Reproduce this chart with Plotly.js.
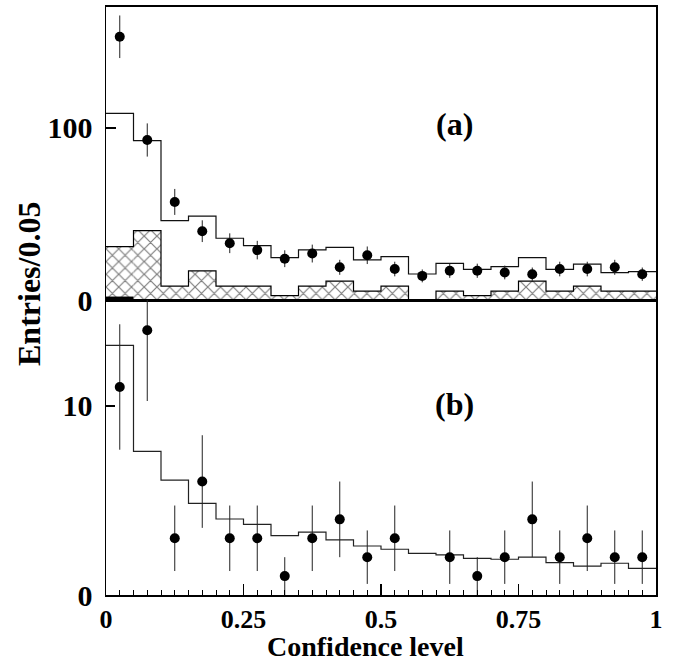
<!DOCTYPE html>
<html>
<head>
<meta charset="utf-8">
<script src="https://cdn.plot.ly/plotly-3.0.1.min.js"></script>
<style>html,body{margin:0;padding:0;background:#fff;}#chart{width:678px;height:663px;}</style>
</head>
<body>
<div id="chart"></div>
<script>
// ---- data (20 bins of width 0.05 in confidence level) ----
const binLow = [0,0.05,0.1,0.15,0.2,0.25,0.3,0.35,0.4,0.45,0.5,0.55,0.6,0.65,0.7,0.75,0.8,0.85,0.9,0.95];
const binWidth = 0.05;
// panel (a)
const topData = [153, 93, 57, 40, 33, 29, 24, 27, 19, 26, 18, 14, 17, 17, 16, 15, 18, 18, 19, 15];
const topMC   = [108.5, 92.6, 46.1, 48.8, 35.9, 31.6, 24.6, 29.1, 30.6, 23.3, 25.2, 15.1, 21.3, 17.8, 19.4, 24.6, 17.8, 20.9, 15.9, 16.5];
const topBkg  = [31, 40.3, 8.1, 16.9, 8.1, 8.1, 2.5, 8.1, 11, 5.2, 8.1, 0, 5.2, 2.5, 5.2, 11, 5.2, 8.1, 5.2, 5.2];
const topSolid = [2, 0, 0, 0, 0, 0, 0, 0, 0, 0, 0, 0, 0, 0, 0, 0, 0, 0, 0, 0];
// panel (b)
const botData = [11, 14, 3, 6, 3, 3, 1, 3, 4, 2, 3, 0, 2, 1, 2, 4, 2, 3, 2, 2];
const botMC   = [13.2, 7.6, 6.07, 4.85, 4.02, 3.74, 3.14, 3.32, 2.91, 2.59, 2.42, 2.2, 2.12, 1.94, 1.89, 2.0, 1.71, 1.53, 1.68, 1.41];
// ticks
const xTickVals = [0, 0.25, 0.5, 0.75, 1];
const xTickText = ['0', '0.25', '0.5', '0.75', '1'];
const yTopTicks = [0, 100];
const yBotTicks = [0, 10];

const centers = binLow.map(v => v + binWidth / 2);
const stepX = binLow.concat([binLow[binLow.length - 1] + binWidth]);
const stepY = arr => arr.concat([arr[arr.length - 1]]);
const pts = arr => arr.map(v => v > 0 ? v : null);
const errs = arr => arr.map(v => Math.sqrt(v));

const FONT = 'Liberation Serif, Times New Roman, serif';

const traces = [
  // (a) hatched background
  {type: 'bar', x: centers, y: topBkg, width: binWidth, xaxis: 'x', yaxis: 'y',
   marker: {color: 'white', line: {width: 0},
            pattern: {shape: 'x', size: 9, solidity: 0.25, fgcolor: 'black', bgcolor: 'white', fillmode: 'overlay'}},
   hoverinfo: 'skip'},
  {type: 'scatter', mode: 'lines', x: stepX, y: stepY(topBkg), xaxis: 'x', yaxis: 'y',
   line: {shape: 'hv', color: 'black', width: 1.2}},
  // (a) small solid component
  {type: 'bar', x: centers, y: topSolid, width: binWidth, xaxis: 'x', yaxis: 'y',
   marker: {color: 'black', line: {width: 0}}},
  // (a) MC histogram
  {type: 'scatter', mode: 'lines', x: stepX, y: stepY(topMC), xaxis: 'x', yaxis: 'y',
   line: {shape: 'hv', color: '#111', width: 1.2}},
  // (a) data
  {type: 'scatter', mode: 'markers', x: centers, y: pts(topData), xaxis: 'x', yaxis: 'y',
   marker: {color: 'black', size: 10},
   error_y: {type: 'data', array: errs(topData), visible: true, width: 0, thickness: 1, color: '#222'}},
  // (b) MC histogram
  {type: 'scatter', mode: 'lines', x: stepX, y: stepY(botMC), xaxis: 'x2', yaxis: 'y2',
   line: {shape: 'hv', color: '#222', width: 1.2}},
  // (b) data
  {type: 'scatter', mode: 'markers', x: centers, y: pts(botData), xaxis: 'x2', yaxis: 'y2',
   marker: {color: 'black', size: 10},
   error_y: {type: 'data', array: errs(botData), visible: true, width: 0, thickness: 1, color: '#222'}}
];

const split = (595 - 300) / 588;
const tickFont = {family: FONT, size: 30, color: 'black', weight: 'bold'};
const xTickFont = {family: FONT, size: 26, color: 'black', weight: 'bold'};

const layout = {
  width: 678, height: 663,
  margin: {l: 106, r: 22, t: 7, b: 68, pad: 0},
  paper_bgcolor: 'white', plot_bgcolor: 'white',
  showlegend: false,
  barmode: 'overlay',
  font: {family: FONT, color: 'black'},
  xaxis: {anchor: 'y', domain: [0, 1], range: [0, 1], showgrid: false, zeroline: false,
          showline: true, linecolor: 'black', linewidth: 2, mirror: true,
          showticklabels: false, ticks: ''},
  yaxis: {anchor: 'x', domain: [split, 1], range: [0, 170.3], showgrid: false, zeroline: false,
          showline: true, linecolor: 'black', linewidth: 1.5, mirror: true,
          tickmode: 'array', tickvals: yTopTicks, ticktext: yTopTicks.map(String),
          ticks: 'inside', ticklen: 10, tickwidth: 1.5, tickcolor: 'black',
          tickfont: tickFont, ticklabelstandoff: 6},
  xaxis2: {anchor: 'y2', domain: [0, 1], range: [0, 1], showgrid: false, zeroline: false,
           showline: true, linecolor: 'black', linewidth: 1.5, mirror: true,
           tickmode: 'array', tickvals: xTickVals, ticktext: xTickText,
           ticks: 'inside', ticklen: 11, tickwidth: 1.2, tickcolor: 'black',
           minor: {dtick: 0.025, ticks: 'inside', ticklen: 5, tickwidth: 1, tickcolor: 'black', showgrid: false},
           tickfont: xTickFont},
  yaxis2: {anchor: 'x2', domain: [0, split], range: [0, 15.6], showgrid: false, zeroline: false,
           showline: true, linecolor: 'black', linewidth: 1.5, mirror: true,
           tickmode: 'array', tickvals: yBotTicks, ticktext: yBotTicks.map(String),
           ticks: 'inside', ticklen: 9, tickwidth: 1.5, tickcolor: 'black',
           tickfont: tickFont, ticklabelstandoff: 6},
  annotations: [
    {xref: 'paper', yref: 'paper', x: (29 - 106) / 550, y: (595 - 284) / 588, text: '<b>Entries/0.05</b>',
     textangle: -90, showarrow: false, font: {family: FONT, size: 32, color: 'black'}, xanchor: 'center', yanchor: 'middle'},
    {xref: 'paper', yref: 'paper', x: (365 - 106) / 550, y: (595 - 663) / 588, text: '<b>Confidence level</b>',
     showarrow: false, font: {family: FONT, size: 28, color: 'black'}, xanchor: 'center', yanchor: 'bottom', borderpad: 0},
    {xref: 'x', yref: 'y', x: 0.634, y: 102.3, text: '<b>(a)</b>', showarrow: false,
     font: {family: FONT, size: 32, color: 'black'}, xanchor: 'center', yanchor: 'middle'},
    {xref: 'x2', yref: 'y2', x: 0.634, y: 10.1, text: '<b>(b)</b>', showarrow: false,
     font: {family: FONT, size: 32, color: 'black'}, xanchor: 'center', yanchor: 'middle'}
  ]
};

Plotly.newPlot('chart', traces, layout, {displayModeBar: false, staticPlot: true});
</script>
</body>
</html>
